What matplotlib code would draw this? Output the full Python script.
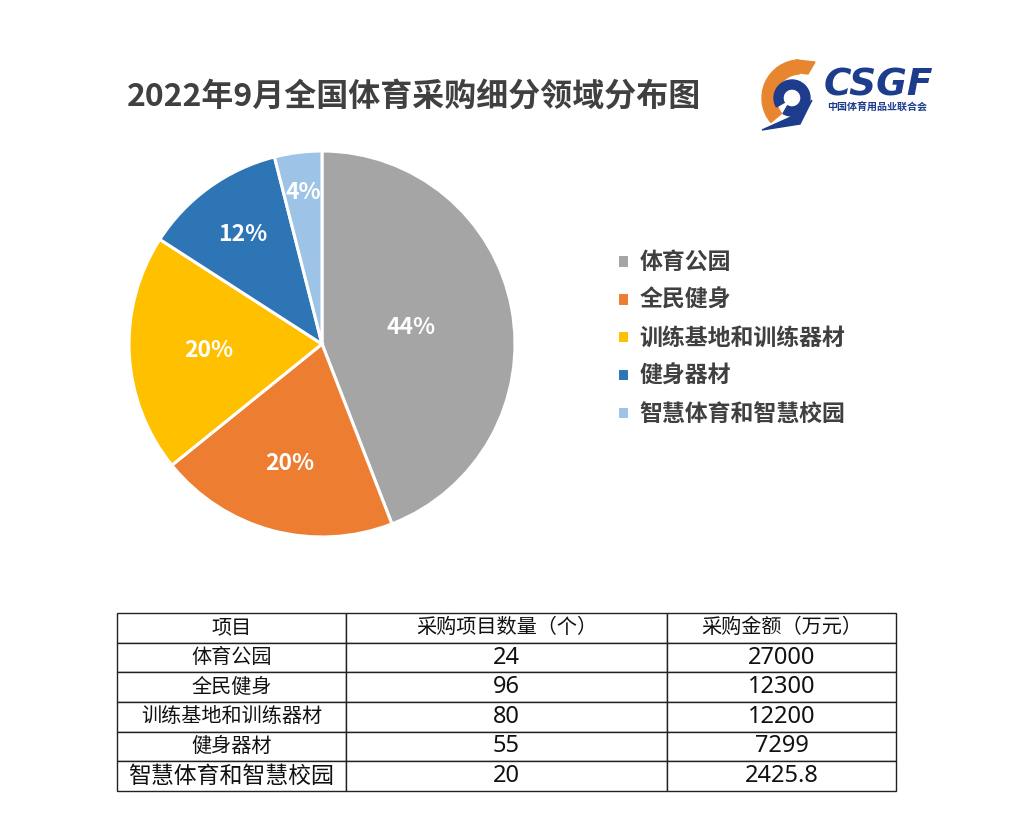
import numpy as np
import matplotlib
matplotlib.use('Agg')
import matplotlib.pyplot as plt
from matplotlib.patches import Wedge, Polygon

plt.rcParams['font.family'] = ['Noto Sans CJK SC', 'DejaVu Sans']

# 数据
categorias = ['体育公园', '全民健身', '训练基地和训练器材', '健身器材', '智慧体育和智慧校园']
cantidades = [24, 96, 80, 55, 20]
montos = [27000, 12300, 12200, 7299, 2425.8]
encabezados = ['项目', '采购项目数量（个）', '采购金额（万元）']
monto_txt = ['27000', '12300', '12200', '7299', '2425.8']

colores = ['#A5A5A5', '#ED7D31', '#FFC000', '#2E75B6', '#9DC3E6']
dist_etiquetas = [0.47, 0.64, 0.59, 0.70, 0.79]

fig = plt.figure(figsize=(10.10, 8.39), dpi=100)
fig.patch.set_facecolor('white')

# Capa en pixeles para título y logo
capa = fig.add_axes([0, 0, 1, 1])
capa.set_xlim(0, 1010)
capa.set_ylim(839, 0)
capa.axis('off')

capa.text(414, 97, '2022年9月全国体育采购细分领域分布图', ha='center', va='center',
          fontsize=23, fontweight='bold', color='#404040')

# Logo CSGF aproximado
capa.add_patch(Wedge((800, 98), 38, 140, 268, width=14, color='#E8862F'))
capa.add_patch(Polygon([[796, 60], [815, 62], [808, 74], [792, 72]], closed=True, color='#E8862F'))
capa.add_patch(Wedge((792, 98), 18, -210, 120, width=9, color='#1E3C8C'))
capa.add_patch(Polygon([[802, 112], [812, 100], [800, 124], [762, 130]], closed=True, color='#1E3C8C'))
capa.text(878, 86, 'CSGF', ha='center', va='center', fontsize=27, fontweight='heavy',
          fontstyle='italic', color='#1E3C8C', family=['DejaVu Sans'])
capa.text(877, 108, '中国体育用品业联合会', ha='center', va='center', fontsize=7.2,
          fontweight='bold', color='#1E3C8C')

# Gráfica de pastel
ax = fig.add_axes([129 / 1010, 1 - 537 / 839, 386 / 1010, 386 / 839])
wedges, textos, autotextos = ax.pie(montos, colors=colores, startangle=90, counterclock=False,
                                    autopct='%1.0f%%',
                                    wedgeprops=dict(edgecolor='white', linewidth=2.2),
                                    textprops=dict(color='white', fontsize=16.5, fontweight='bold'))
ax.set_xlim(-1, 1)
ax.set_ylim(-1, 1)
ax.set_aspect('equal')

for w, t, d in zip(wedges, autotextos, dist_etiquetas):
    ang = np.deg2rad((w.theta1 + w.theta2) / 2)
    t.set_position((d * np.cos(ang), d * np.sin(ang)))

fig.legend(wedges, categorias, loc='upper left', bbox_to_anchor=(617 / 1010, 1 - 251 / 839),
           bbox_transform=fig.transFigure, borderaxespad=0, borderpad=0,
           frameon=False, handlelength=0.53, handleheight=0.53, handletextpad=0.45,
           labelspacing=0.65, prop=dict(size=16.5, weight='bold'), labelcolor='#404040')

# Tabla
ax_t = fig.add_axes([117 / 1010, 1 - 791 / 839, 779 / 1010, 178 / 839])
ax_t.axis('off')
celdas = [[c, str(n), m] for c, n, m in zip(categorias, cantidades, monto_txt)]
tabla = ax_t.table(cellText=celdas, colLabels=encabezados, cellLoc='center',
                   colWidths=[229 / 779, 321 / 779, 229 / 779], bbox=[0, 0, 1, 1])
tabla.auto_set_font_size(False)
for (r, c), celda in tabla.get_celld().items():
    celda.set_edgecolor('#222222')
    celda.set_linewidth(1.0)
    txt = celda.get_text()
    txt.set_color('#111111')
    if r > 0 and c > 0:
        txt.set_fontsize(17)
        txt.set_family(['Noto Sans', 'Noto Sans CJK SC'])
    elif r == len(categorias):
        txt.set_fontsize(16.5)
    else:
        txt.set_fontsize(14.5)

fig.savefig('out.png', dpi=100, facecolor='white')
